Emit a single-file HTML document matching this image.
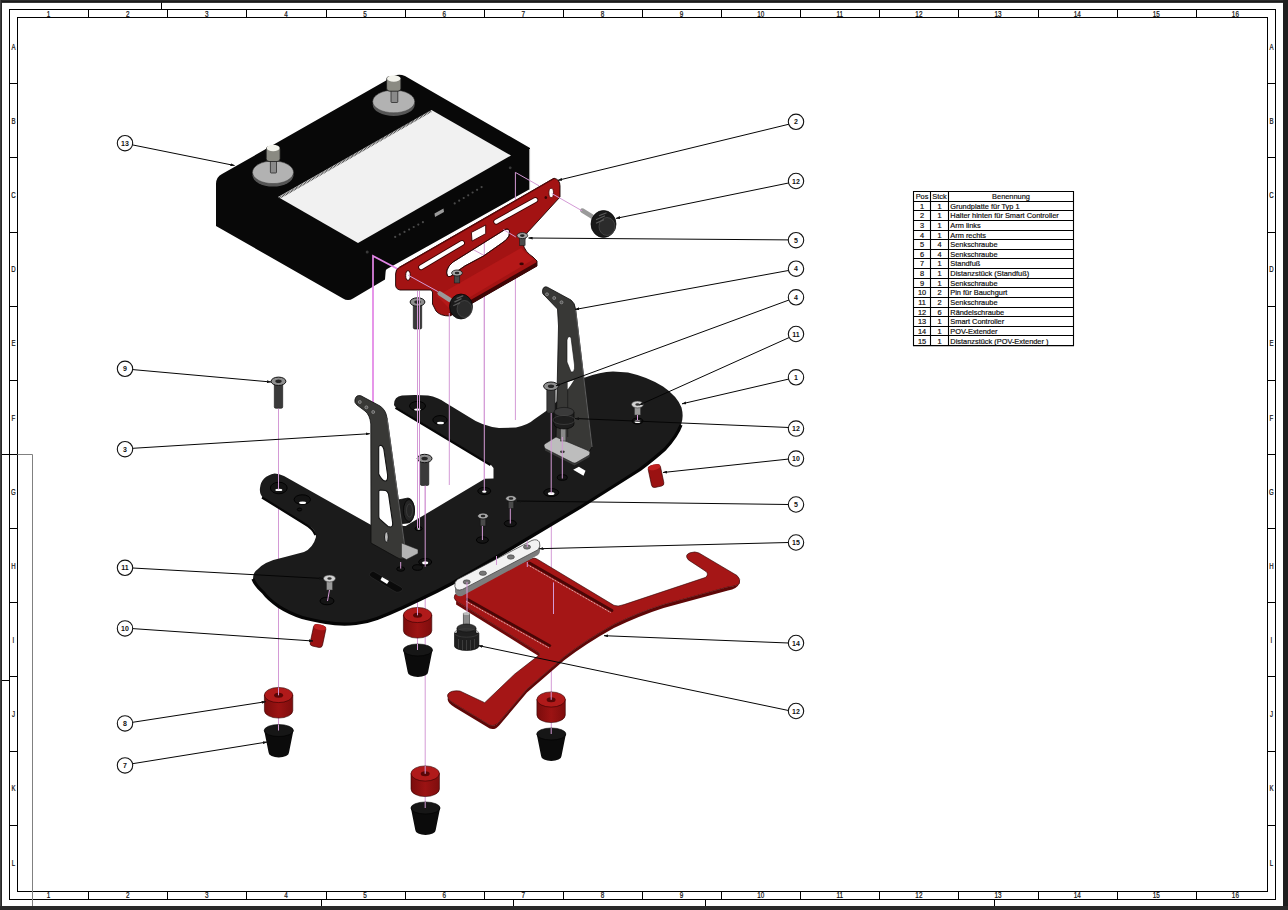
<!DOCTYPE html>
<html><head><meta charset="utf-8"><title>Zeichnung</title>
<style>html,body{margin:0;padding:0;background:#fff;overflow:hidden}svg{display:block}</style>
</head><body>
<svg width="1288" height="910" viewBox="0 0 1288 910">
<rect x="0" y="0" width="1288" height="910" fill="#ffffff"/><rect x="0" y="0" width="1288" height="2.8" fill="#050505"/><rect x="0" y="0" width="1288" height="1.6" fill="#2b2b2b"/><rect x="0" y="0" width="2" height="910" fill="#262626"/><rect x="0" y="0" width="1" height="910" fill="#404040"/><rect x="1283" y="0" width="5" height="910" fill="#1e1e1e"/><rect x="0" y="906" width="1288" height="4" fill="#2a2a2a"/><rect x="9.5" y="9.5" width="1266" height="890" fill="none" stroke="#000" stroke-width="1"/><rect x="17.5" y="17.5" width="1250" height="874" fill="none" stroke="#000" stroke-width="1"/><path d="M88.5,9.5V17.5M88.5,891.5V899.5M167.5,9.5V17.5M167.5,891.5V899.5M246.5,9.5V17.5M246.5,891.5V899.5M326.5,9.5V17.5M326.5,891.5V899.5M405.5,9.5V17.5M405.5,891.5V899.5M484.5,9.5V17.5M484.5,891.5V899.5M563.5,9.5V17.5M563.5,891.5V899.5M642.5,9.5V17.5M642.5,891.5V899.5M721.5,9.5V17.5M721.5,891.5V899.5M800.5,9.5V17.5M800.5,891.5V899.5M879.5,9.5V17.5M879.5,891.5V899.5M958.5,9.5V17.5M958.5,891.5V899.5M1038.5,9.5V17.5M1038.5,891.5V899.5M1117.5,9.5V17.5M1117.5,891.5V899.5M1196.5,9.5V17.5M1196.5,891.5V899.5M9.5,83.5H17.5M1267.5,83.5H1275.5M9.5,157.5H17.5M1267.5,157.5H1275.5M9.5,232.5H17.5M1267.5,232.5H1275.5M9.5,306.5H17.5M1267.5,306.5H1275.5M9.5,380.5H17.5M1267.5,380.5H1275.5M9.5,454.5H17.5M1267.5,454.5H1275.5M9.5,528.5H17.5M1267.5,528.5H1275.5M9.5,602.5H17.5M1267.5,602.5H1275.5M9.5,676.5H17.5M1267.5,676.5H1275.5M9.5,751.5H17.5M1267.5,751.5H1275.5M9.5,825.5H17.5M1267.5,825.5H1275.5M161.5,2.5V9.5M321.5,899.5V906M513.5,899.5V906M705.5,899.5V906M994.5,899.5V906M2,680.5H9.5M2,454.5H17.5" stroke="#000" stroke-width="1" fill="none"/><path d="M17.5,454.5H32.5V906" stroke="#808080" stroke-width="1" fill="none"/><g font-family="Liberation Sans, sans-serif" font-size="8.6" text-anchor="middle" fill="#111" stroke="#111" stroke-width="0.25"><text transform="translate(48.6,16.6) scale(0.74,1)">1</text><text transform="translate(48.6,898) scale(0.74,1)">1</text><text transform="translate(127.7,16.6) scale(0.74,1)">2</text><text transform="translate(127.7,898) scale(0.74,1)">2</text><text transform="translate(206.8,16.6) scale(0.74,1)">3</text><text transform="translate(206.8,898) scale(0.74,1)">3</text><text transform="translate(285.9,16.6) scale(0.74,1)">4</text><text transform="translate(285.9,898) scale(0.74,1)">4</text><text transform="translate(365.1,16.6) scale(0.74,1)">5</text><text transform="translate(365.1,898) scale(0.74,1)">5</text><text transform="translate(444.2,16.6) scale(0.74,1)">6</text><text transform="translate(444.2,898) scale(0.74,1)">6</text><text transform="translate(523.3,16.6) scale(0.74,1)">7</text><text transform="translate(523.3,898) scale(0.74,1)">7</text><text transform="translate(602.4,16.6) scale(0.74,1)">8</text><text transform="translate(602.4,898) scale(0.74,1)">8</text><text transform="translate(681.6,16.6) scale(0.74,1)">9</text><text transform="translate(681.6,898) scale(0.74,1)">9</text><text transform="translate(760.7,16.6) scale(0.74,1)">10</text><text transform="translate(760.7,898) scale(0.74,1)">10</text><text transform="translate(839.8,16.6) scale(0.74,1)">11</text><text transform="translate(839.8,898) scale(0.74,1)">11</text><text transform="translate(918.9,16.6) scale(0.74,1)">12</text><text transform="translate(918.9,898) scale(0.74,1)">12</text><text transform="translate(998.1,16.6) scale(0.74,1)">13</text><text transform="translate(998.1,898) scale(0.74,1)">13</text><text transform="translate(1077.2,16.6) scale(0.74,1)">14</text><text transform="translate(1077.2,898) scale(0.74,1)">14</text><text transform="translate(1156.3,16.6) scale(0.74,1)">15</text><text transform="translate(1156.3,898) scale(0.74,1)">15</text><text transform="translate(1235.4,16.6) scale(0.74,1)">16</text><text transform="translate(1235.4,898) scale(0.74,1)">16</text><text transform="translate(13.4,49.7) scale(0.74,1)" font-size="8.2">A</text><text transform="translate(1271.4,49.7) scale(0.74,1)" font-size="8.2">A</text><text transform="translate(13.4,123.8) scale(0.74,1)" font-size="8.2">B</text><text transform="translate(1271.4,123.8) scale(0.74,1)" font-size="8.2">B</text><text transform="translate(13.4,198.0) scale(0.74,1)" font-size="8.2">C</text><text transform="translate(1271.4,198.0) scale(0.74,1)" font-size="8.2">C</text><text transform="translate(13.4,272.2) scale(0.74,1)" font-size="8.2">D</text><text transform="translate(1271.4,272.2) scale(0.74,1)" font-size="8.2">D</text><text transform="translate(13.4,346.4) scale(0.74,1)" font-size="8.2">E</text><text transform="translate(1271.4,346.4) scale(0.74,1)" font-size="8.2">E</text><text transform="translate(13.4,420.5) scale(0.74,1)" font-size="8.2">F</text><text transform="translate(1271.4,420.5) scale(0.74,1)" font-size="8.2">F</text><text transform="translate(13.4,494.7) scale(0.74,1)" font-size="8.2">G</text><text transform="translate(1271.4,494.7) scale(0.74,1)" font-size="8.2">G</text><text transform="translate(13.4,568.9) scale(0.74,1)" font-size="8.2">H</text><text transform="translate(1271.4,568.9) scale(0.74,1)" font-size="8.2">H</text><text transform="translate(13.4,643.0) scale(0.74,1)" font-size="8.2">I</text><text transform="translate(1271.4,643.0) scale(0.74,1)" font-size="8.2">I</text><text transform="translate(13.4,717.2) scale(0.74,1)" font-size="8.2">J</text><text transform="translate(1271.4,717.2) scale(0.74,1)" font-size="8.2">J</text><text transform="translate(13.4,791.4) scale(0.74,1)" font-size="8.2">K</text><text transform="translate(1271.4,791.4) scale(0.74,1)" font-size="8.2">K</text><text transform="translate(13.4,865.5) scale(0.74,1)" font-size="8.2">L</text><text transform="translate(1271.4,865.5) scale(0.74,1)" font-size="8.2">L</text></g>
<path d="M913.5,191.5H1073.5V345.58H913.5ZM913.5,201.5H1073.5M913.5,210.5H1073.5M913.5,220.5H1073.5M913.5,230.5H1073.5M913.5,239.5H1073.5M913.5,249.5H1073.5M913.5,258.5H1073.5M913.5,268.5H1073.5M913.5,278.5H1073.5M913.5,287.5H1073.5M913.5,297.5H1073.5M913.5,307.5H1073.5M913.5,316.5H1073.5M913.5,326.5H1073.5M913.5,335.5H1073.5M930.5,191.5V345.58M948.5,191.5V345.58" stroke="#000" stroke-width="1.1" fill="none"/><g font-family="Liberation Sans, sans-serif" font-size="7.4" fill="#111" stroke="#111" stroke-width="0.2"><text x="922.0" y="199.0" text-anchor="middle">Pos</text><text x="939.5" y="199.0" text-anchor="middle">Stck</text><text x="1011.0" y="199.0" text-anchor="middle">Benennung</text><text x="922.0" y="208.6" text-anchor="middle">1</text><text x="939.5" y="208.6" text-anchor="middle">1</text><text x="950.3" y="208.6">Grundplatte für Typ 1</text><text x="922.0" y="218.3" text-anchor="middle">2</text><text x="939.5" y="218.3" text-anchor="middle">1</text><text x="950.3" y="218.3">Halter hinten für Smart Controller</text><text x="922.0" y="227.9" text-anchor="middle">3</text><text x="939.5" y="227.9" text-anchor="middle">1</text><text x="950.3" y="227.9">Arm links</text><text x="922.0" y="237.5" text-anchor="middle">4</text><text x="939.5" y="237.5" text-anchor="middle">1</text><text x="950.3" y="237.5">Arm rechts</text><text x="922.0" y="247.2" text-anchor="middle">5</text><text x="939.5" y="247.2" text-anchor="middle">4</text><text x="950.3" y="247.2">Senkschraube</text><text x="922.0" y="256.8" text-anchor="middle">6</text><text x="939.5" y="256.8" text-anchor="middle">4</text><text x="950.3" y="256.8">Senkschraube</text><text x="922.0" y="266.4" text-anchor="middle">7</text><text x="939.5" y="266.4" text-anchor="middle">1</text><text x="950.3" y="266.4">Standfuß</text><text x="922.0" y="276.0" text-anchor="middle">8</text><text x="939.5" y="276.0" text-anchor="middle">1</text><text x="950.3" y="276.0">Distanzstück (Standfuß)</text><text x="922.0" y="285.7" text-anchor="middle">9</text><text x="939.5" y="285.7" text-anchor="middle">1</text><text x="950.3" y="285.7">Senkschraube</text><text x="922.0" y="295.3" text-anchor="middle">10</text><text x="939.5" y="295.3" text-anchor="middle">2</text><text x="950.3" y="295.3">Pin für Bauchgurt</text><text x="922.0" y="304.9" text-anchor="middle">11</text><text x="939.5" y="304.9" text-anchor="middle">2</text><text x="950.3" y="304.9">Senkschraube</text><text x="922.0" y="314.6" text-anchor="middle">12</text><text x="939.5" y="314.6" text-anchor="middle">6</text><text x="950.3" y="314.6">Rändelschraube</text><text x="922.0" y="324.2" text-anchor="middle">13</text><text x="939.5" y="324.2" text-anchor="middle">1</text><text x="950.3" y="324.2">Smart Controller</text><text x="922.0" y="333.8" text-anchor="middle">14</text><text x="939.5" y="333.8" text-anchor="middle">1</text><text x="950.3" y="333.8">POV-Extender</text><text x="922.0" y="343.5" text-anchor="middle">15</text><text x="939.5" y="343.5" text-anchor="middle">1</text><text x="950.3" y="343.5">Distanzstück (POV-Extender )</text></g>
<!-- ===== Controller (13) ===== -->
<g id="ctrl">
<path d="M216,184 Q216,177 222,174 L394,76 Q399,73.5 405,76 L530,148 L530,189 L387,269 Q385.6,269.6 385.6,272 L385,279.5 L353,298.5 Q348,301.5 343,298.5 L216,226 Z" fill="#080808"/>
<path d="M529.6,149V189" stroke="#b5b5b5" stroke-width="1"/>
<path d="M278,197 L431.5,110 L511,155.5 L358,243 Z" fill="#f1f1f1"/>
<path d="M279.3,197.9 L431.5,110.9" stroke="#3a3a3a" stroke-width="2.2" stroke-dasharray="0.8 0.7"/>
<g fill="#4a4a4a">
<circle cx="395.2" cy="236.9" r="1.1"/><circle cx="399.8" cy="234.4" r="1.1"/><circle cx="404.5" cy="231.9" r="1.1"/><circle cx="409.1" cy="229.5" r="1.1"/><circle cx="413.7" cy="227" r="1.1"/><circle cx="418.3" cy="224.6" r="1.1"/><circle cx="422.9" cy="222.2" r="1.1"/>
<circle cx="454.7" cy="203.4" r="1.1"/><circle cx="459.2" cy="200.7" r="1.1"/><circle cx="463.7" cy="198" r="1.1"/><circle cx="468.2" cy="195.3" r="1.1"/><circle cx="472.6" cy="192.5" r="1.1"/><circle cx="477.1" cy="189.8" r="1.1"/><circle cx="481.6" cy="187.1" r="1.1"/>
</g>
<circle cx="367.2" cy="252" r="1.5" fill="#3a3a3a"/>
<circle cx="510.2" cy="167.8" r="1.4" fill="#3a3a3a"/>
<path d="M434.5,213.5 L443.5,208.5 L444,212 L435,217 Z" fill="#9a9a9a"/>
<!-- knobs -->
<ellipse cx="273" cy="175.3" rx="20.5" ry="11.3" fill="#555"/>
<ellipse cx="273" cy="172.3" rx="20.5" ry="11.3" fill="#b2b2b2" stroke="#3a3a3a" stroke-width="0.5"/>
<rect x="270.4" y="160" width="6.1" height="13" rx="0.8" fill="#8a8a8a" stroke="#1a1a1a" stroke-width="0.7"/>
<rect x="266.2" y="146.5" width="13.9" height="15" rx="3" fill="#8a8a82" stroke="#1a1a1a" stroke-width="0.8"/>
<ellipse cx="273.15" cy="148" rx="6.5" ry="3.2" fill="#f3f3ec"/>
<ellipse cx="393.7" cy="104.6" rx="21" ry="11.3" fill="#555"/>
<ellipse cx="393.7" cy="101.5" rx="21" ry="11.3" fill="#b2b2b2" stroke="#3a3a3a" stroke-width="0.5"/>
<rect x="391" y="89.5" width="6.8" height="13" rx="0.8" fill="#8a8a8a" stroke="#1a1a1a" stroke-width="0.7"/>
<rect x="386.6" y="76.5" width="14.3" height="14.7" rx="3" fill="#8a8a82" stroke="#1a1a1a" stroke-width="0.8"/>
<ellipse cx="393.75" cy="78.5" rx="6.7" ry="3.2" fill="#f3f3ec"/>
</g>
<g stroke="#d49ad6" stroke-width="1" fill="none">
<path d="M397.3,268.8 L373,256 V403" stroke="#e285e6" stroke-width="1.7"/>
<path d="M539.4,186 L515.4,172.4 V420"/>
<path d="M450,237 L484.3,255.6 M484.3,241.9 V491"/>
<path d="M417.5,291V650"/>
<path d="M425.2,485.5V808"/>
<path d="M278.5,408.7V730.5"/>
<path d="M551.3,413V734"/>
</g>

<!-- ===== Bracket (2) ===== -->
<g id="bracket">
<path fill-rule="evenodd" d="M399.5,267.2 L554,178.2 Q560,179.5 560,186 L560,197 L527,233 L523,244 Q525,252 533,257 L537,261 L537,266 L450,316 Q440,316 436,311 L432.5,304 L432.5,292 L431,290 L400,290 Q395.6,289 395.6,285 L395.6,274 Q395.6,269 399.5,267.2 Z M447,270 Q448,266 453,262 L505,229.5 Q509.5,228 509.5,232 L509,236 Q507,240 502,243 L483.5,256 L464.8,266 L454,273.5 Q450,278 447.5,276 Q446,273 447,270 Z" fill="#a31313" stroke="#1a0000" stroke-width="0.9"/>
<path d="M399.5,267.6 L554,178.6" stroke="#5c0707" stroke-width="1.2" fill="none"/>
<path d="M437,296 L521,248 Q526,254 534,259 L450,309 Z" fill="#b51818"/>
<path d="M449.6,312 L537,262 L537,266 L450,316 Z" fill="#400505"/>
<path d="M447,270 Q448,266 453,262 L505,229.5 Q509.5,228 509.5,232 L509,236 Q507,240 502,243 L483.5,256 L464.8,266 L454,273.5 Q450,278 447.5,276 Q446,273 447,270 Z" fill="none" stroke="#3a0303" stroke-width="0.8"/>
<path d="M496.2,221.7 L535.3,200" stroke="#3a0303" stroke-width="5.8" stroke-linecap="round"/>
<path d="M496.2,221.7 L535.3,200" stroke="#fff" stroke-width="4" stroke-linecap="round"/>
<path d="M421.1,267.2 L462,243" stroke="#3a0303" stroke-width="5.8" stroke-linecap="round"/>
<path d="M421.1,267.2 L462,243" stroke="#fff" stroke-width="4" stroke-linecap="round"/>
<path d="M471.4,232.4 L485.7,225 L485.7,233.7 L472,241.1 Z" fill="#fff" stroke="#3a0303" stroke-width="0.9"/>
<ellipse cx="521.6" cy="263.9" rx="2.2" ry="1.3" fill="#3a0404"/>
<ellipse cx="545.8" cy="197.5" rx="1.3" ry="1.6" fill="#3a0404"/>
<ellipse cx="551.2" cy="192.9" rx="2.3" ry="4.6" fill="#fff" stroke="#4a0505" stroke-width="0.8"/>
<ellipse cx="408" cy="275.5" rx="2.3" ry="4.8" fill="#fff" stroke="#3a0303" stroke-width="1"/>
</g>
<!-- ===== Base plate (1) ===== -->
<g id="plate">
<path d="M394,404.5 Q394,396.5 402,395.5 Q415,394.3 428,395.5 Q438,397 446,403 L469,417 Q482,426 499,428 L516,427.5 Q528,425 534,419.5 L549,409 Q560,399 568,389 Q576,380 585,377.5 Q600,372 613,371.5 L628,372.5 Q648,377 663,386.5 Q677,396 681.5,407.5 Q684,417 681,425 Q677,436 665,449 Q655,458 640,469.5 L580,507.5 L527,539 L490,561 L452,583.5 Q436,592 420,599.5 L403,607.5 Q390,613.5 377,618.5 Q366,622.5 356,623.5 Q340,625 325.6,622.4 Q312,620 302.3,617.5 Q289,613 279,606.6 Q268,599 263.5,592.6 Q255,585 253,579 Q253,572 258,569 Q262,565 266,563 Q275,559 285,557 L304,552 Q313,548 316,537 Q316,530 309,526 L265,499.6 Q259,495 260,488 Q261,476 274.7,473.4 Q279,473.5 284,476 L371.6,525.3 L405.7,526.1 L484.8,478.7 L493.5,478.5 L493.5,468 L490.8,464.8 L398,408.5 Q394,406.5 394,404.5 Z" fill="#1b1b1b"/>
<path d="M681,425 Q677,436 665,449 Q655,458 640,469.5 L580,507.5 L527,539 L490,561 L452,583.5 Q436,592 420,599.5 L403,607.5 Q390,613.5 377,618.5 Q366,622.5 356,623.5 Q340,625 325.6,622.4 Q312,620 302.3,617.5 Q289,613 279,606.6 Q268,599 263.5,592.6 Q255,585 253,579" fill="none" stroke="#050505" stroke-width="3.2"/>
<path d="M395.5,407.8 L490.5,465 M262,497.5 L304,523.5 Q313,528.5 315.5,535" fill="none" stroke="#060606" stroke-width="2.2"/>
<!-- holes -->
<g fill="#141414" stroke="#000" stroke-width="0.9">
<ellipse cx="278.8" cy="488" rx="8.4" ry="5.8"/>
<ellipse cx="302.3" cy="499.6" rx="8.2" ry="4.8"/>
<ellipse cx="299.5" cy="509.5" rx="2.2" ry="1.5"/>
<ellipse cx="417.5" cy="406" rx="8" ry="4.6"/>
<ellipse cx="440" cy="420" rx="7.2" ry="4.4"/>
<ellipse cx="484.3" cy="491" rx="6.5" ry="3.6"/>
<ellipse cx="551.2" cy="492.5" rx="7.5" ry="4"/>
<ellipse cx="562.3" cy="477.5" rx="5" ry="2.8"/>
<ellipse cx="510.3" cy="523.5" rx="6" ry="3.3"/>
<ellipse cx="482.4" cy="540" rx="6" ry="3.3"/>
<ellipse cx="425.2" cy="562" rx="6.5" ry="3.6"/>
<ellipse cx="417.5" cy="567.5" rx="5" ry="2.8"/>
<ellipse cx="327" cy="601" rx="7" ry="3.8"/>
<ellipse cx="637.5" cy="421" rx="5.5" ry="3"/>
<ellipse cx="418.6" cy="528.6" rx="3.6" ry="2"/>
<ellipse cx="400.7" cy="569" rx="4" ry="2.2"/>
</g>
<g fill="#fff">
<ellipse cx="278.8" cy="489.9" rx="3.5" ry="1.2"/>
<ellipse cx="302.6" cy="502.8" rx="3.5" ry="1.25"/>
<ellipse cx="417.5" cy="409.6" rx="3.3" ry="1.2"/>
<ellipse cx="440.5" cy="423" rx="3.5" ry="1.3"/>
<ellipse cx="484.3" cy="491.6" rx="2.2" ry="1.2"/>
<ellipse cx="551.2" cy="493.5" rx="3.3" ry="1.6"/>
<ellipse cx="425.2" cy="562.8" rx="3" ry="1.5"/>
<ellipse cx="637.5" cy="421.5" rx="3" ry="1.5"/>
<ellipse cx="418.8" cy="529" rx="1.4" ry="0.8"/>
</g>
<path d="M373,571 L401,587 Q404,589 402,590.5 L399,592 Q397,593 394,591 L371,577 Q368,575 370,573 Z" fill="#0a0a0a" stroke="#333" stroke-width="0.5"/>
<path d="M382,577 L389,581 L387,584 L380.5,580 Z" fill="#fff"/>
<path d="M573.2,469.8 L578.9,466.8 L585.5,470.8 L583.5,475.8 Z" fill="#fff"/>
</g>
<!-- knob under arm 3 -->
<path d="M398,500 L408,498 A6.5,12.5 0 0 1 408,523 L398,524 Z" fill="#1a1a1a" stroke="#000" stroke-width="0.7"/>
<ellipse cx="409" cy="510.5" rx="5.5" ry="11" fill="#262626" stroke="#000" stroke-width="0.7"/>
<ellipse cx="409.5" cy="510.5" rx="3" ry="6.5" fill="none" stroke="#444" stroke-width="0.7"/>
<!-- ===== Arm links (3) ===== -->
<g id="arm3">
<path d="M355,399.5 Q356,394.5 361,395.8 L380,406 Q386,410 387,418 L404.8,547 L404,559 Q400,560 396,557 L371,543 L370.8,424 Q370,415 365,411 L357,405 Q354,402.5 355,399.5 Z" fill="#383836" stroke="#0d0d0d" stroke-width="0.8"/>
<path d="M387,418 L404.8,547" stroke="#5a5a5a" stroke-width="1.2"/>
<path d="M401.5,543 L418,549.5 L418,553.5 L406.5,559.5 L401.5,557 Z" fill="#b4b4b4" stroke="#222" stroke-width="0.5"/>
<path d="M378.7,447.5 Q379,444.8 381.5,445.5 Q383,446.5 383.8,449 L387.6,475 Q388,481.5 384.8,481 Q381.5,480 378.7,474 Z" fill="#fff" stroke="#121212" stroke-width="1.1"/>
<path d="M378.8,491.5 Q379,490 380.5,490 L385.5,490.5 Q387.5,491 388.5,494 L392.6,522.5 Q393,527 390.5,527 L388,526.5 L379.5,519 Q378.8,518 378.8,516 Z" fill="#fff" stroke="#121212" stroke-width="1.1"/>
<ellipse cx="386.4" cy="537" rx="1.9" ry="5" fill="#bdbdbd" stroke="#111" stroke-width="0.9"/>
<g fill="#555" stroke="#bbb" stroke-width="0.5"><circle cx="359.8" cy="402" r="1.5"/><circle cx="366.4" cy="407.3" r="1.5"/><circle cx="373.2" cy="412" r="1.5"/></g>
</g>
<!-- ===== Arm rechts (4) ===== -->
<g id="arm4">
<path d="M542.5,291 Q543,286 547,287 L571,300 Q575,303 575.5,309 L592,447 L589,452 L556,438 L558.5,326 L557.5,309 L545,296 Q542,294 542.5,291 Z" fill="#383836" stroke="#0d0d0d" stroke-width="0.8"/>
<path d="M575.5,309 L592,447" stroke="#5a5a5a" stroke-width="1.2"/>
<path d="M567,340 Q568,335 571,337.5 L574.5,365 Q575,373 571,372 L567,362 Z" fill="#fff" stroke="#111" stroke-width="0.6"/>
<path d="M567.6,382 L574,380 Q571,385 567.6,389.5 Z" fill="#fff"/>
<path d="M567.7,389.5 V437" stroke="#1a1a1a" stroke-width="0.8"/>
<g fill="#555" stroke="#bbb" stroke-width="0.5"><circle cx="547" cy="294.3" r="1.5"/><circle cx="554.2" cy="298" r="1.5"/><circle cx="561.5" cy="302.3" r="1.5"/></g>
<path d="M545,448.5 L545,450.5 L574.5,465.5 L589.5,457 L589.5,455 Z" fill="#3a3a3a"/>
<path d="M544,446 Q543.5,444.5 545.5,443.5 L556,437 L588,450.5 Q591,452 589.5,455 L576,462.8 Q574.5,463.5 572.5,462.5 L545,448.5 Z" fill="#bdbdbd" stroke="#1a1a1a" stroke-width="0.6"/>
<ellipse cx="562.4" cy="451.8" rx="2.4" ry="1.4" fill="#333"/>
</g>
<!-- ===== POV extender (14) ===== -->
<g id="pov">
<path d="M454.9,594.7 L532,558.5 Q534.5,557.5 537,559 L613.9,605.3 Q618,607 624,604.6 L705.8,577.3 Q709,574 706,571.5 L688.4,559.9 Q684,555 690,552.8 Q695,551 699,553 L737,575.5 Q741,579 739.4,583.5 Q737,586 728,587 L663.6,604.6 Q640,612 613.9,624.5 Q586,640 564.2,656.8 L527,689.1 L499.6,721.4 Q495,727 489.7,725.1 L454.9,704 Q446,699 448,694 Q451,690 459.9,691 L484.7,702.7 L514.5,674.2 L536.9,656.8 Q540,655 539.4,653 L456.1,600.9 Q453,598 454.9,594.7 Z" fill="#a51616" stroke="#2a0202" stroke-width="0.6"/>
<path d="M739.4,583.5 Q737,589 728,590.5 L663.6,608 Q640,615.5 613.9,628 Q586,643.5 564.2,660.3 L527,692.6 L499.6,724.9 Q495,730.5 489.7,728.6 L454.9,707.5 Q446,702.5 448,697.5 L448,694 Q446,699 454.9,704 L489.7,725.1 Q495,727 499.6,721.4 L527,689.1 L564.2,656.8 Q586,640 613.9,624.5 Q640,612 663.6,604.6 L728,587 Q737,586 739.4,583.5 Z" fill="#5e0707"/>
<path d="M456.1,600.9 L539.4,653 L539.4,656.5 L456.1,604.4 Z" fill="#6d0909"/>
<path d="M529.5,563 L612,610.5" stroke="#4a0606" stroke-width="2.8" stroke-linecap="round"/>
<path d="M528.5,565.2 L611,612.7" stroke="#eadada" stroke-width="0.9" stroke-dasharray="1.1 0.7"/>
<path d="M467.3,599.3 L549.8,645.6" stroke="#4a0606" stroke-width="2.8" stroke-linecap="round"/>
<path d="M466.3,601.5 L548.8,647.8" stroke="#eadada" stroke-width="0.9" stroke-dasharray="1.1 0.7"/>
</g>
<!-- ===== spacer bar (15) ===== -->
<g id="bar15">
<path d="M455,586 L455,592 Q456,597 462,596 L538,555 Q540.5,553 540,549 L540,544 Z" fill="#7d7d7d"/>
<path d="M457.4,579.5 L532,540.4 Q537,538.5 539.4,542 Q541,546.5 538.1,549.7 L462.4,589.4 Q456,591.5 454.9,586.5 Q454,582 457.4,579.5 Z" fill="#f2f2f2" stroke="#333" stroke-width="0.7"/>
<g fill="#777" stroke="#333" stroke-width="0.5"><ellipse cx="466.7" cy="582" rx="3.6" ry="2.2"/><ellipse cx="482.9" cy="573.2" rx="3.6" ry="2.2"/><ellipse cx="510.8" cy="557" rx="3.6" ry="2.2"/><ellipse cx="527" cy="547" rx="3.6" ry="2.2"/></g>
</g>
<!-- ===== spacers (8) and feet (7) ===== -->
<defs>
<linearGradient id="gr" x1="0" x2="1" y1="0" y2="0"><stop offset="0" stop-color="#7a0c0c"/><stop offset="0.5" stop-color="#9c1313"/><stop offset="1" stop-color="#7e0d0d"/></linearGradient>
<g id="spacer">
<path d="M-14.2,0 V15.5 A14.2,7.6 0 0 0 14.2,15.5 V0 Z" fill="url(#gr)" stroke="#300" stroke-width="0.6"/>
<ellipse cx="0" cy="0" rx="14.2" ry="7.6" fill="#b01a1a" stroke="#300" stroke-width="0.6"/>
<ellipse cx="0" cy="0.3" rx="4.5" ry="2.5" fill="#5a0606"/>
</g>
<g id="foot">
<path d="M-14.6,0 L-10.2,22 A10.2,5 0 0 0 10.2,22 L14.6,0 Z" fill="#0b0b0b"/>
<ellipse cx="0" cy="0" rx="14.6" ry="6" fill="#161616" stroke="#000" stroke-width="0.6"/>
</g>
</defs>
<use href="#spacer" x="278.6" y="695"/>
<use href="#foot" x="278.8" y="730.5"/>
<use href="#spacer" x="417.6" y="615"/>
<use href="#foot" x="417.9" y="650"/>
<use href="#spacer" x="425.2" y="773.5"/>
<use href="#foot" x="425.5" y="808"/>
<use href="#spacer" x="551.1" y="699.5"/>
<use href="#foot" x="551.3" y="734"/>
<!-- ===== pins (10) ===== -->
<g transform="translate(318,636) rotate(12)"><rect x="-6.3" y="-11" width="12.6" height="22" rx="3" fill="#9a1212" stroke="#300" stroke-width="0.6"/><ellipse cx="0" cy="-9" rx="6.3" ry="2.8" fill="#c02020"/></g>
<g transform="translate(656,476) rotate(-12)"><rect x="-6.3" y="-11" width="12.6" height="22" rx="3" fill="#9a1212" stroke="#300" stroke-width="0.6"/><ellipse cx="0" cy="-9" rx="6.3" ry="2.8" fill="#c02020"/></g>
<!-- ===== screws ===== -->
<defs>
<g id="screwL">
<rect x="-4.2" y="0" width="8.4" height="27" rx="1.5" fill="#3a3a3a" stroke="#111" stroke-width="0.6"/>
<ellipse cx="0" cy="0" rx="7.4" ry="4.2" fill="#8e8e8e" stroke="#151515" stroke-width="1"/>
<ellipse cx="0" cy="0" rx="3.2" ry="1.8" fill="#262626"/>
</g>
<g id="screwS">
<rect x="-2.8" y="0" width="5.6" height="10" fill="#4a4a4a" stroke="#111" stroke-width="0.5"/>
<ellipse cx="0" cy="0" rx="5.4" ry="3" fill="#a8a8a8" stroke="#151515" stroke-width="0.8"/>
<ellipse cx="0" cy="0" rx="2.3" ry="1.3" fill="#262626"/>
</g>
</defs>
<use href="#screwL" x="278.5" y="381.3"/>
<use href="#screwL" x="424.6" y="458.5"/>
<use href="#screwL" x="417.5" y="302"/>
<use href="#screwL" x="551" y="386.2"/>
<use href="#screwS" x="457" y="273"/>
<use href="#screwS" x="522.3" y="235.6"/>
<use href="#screwS" x="511" y="498.5"/>
<use href="#screwS" x="483" y="516"/>
<g><rect x="634.5" y="405" width="6" height="10" fill="#999" stroke="#333" stroke-width="0.5"/><ellipse cx="637.5" cy="404.5" rx="6" ry="3.4" fill="#d2d2d2" stroke="#333" stroke-width="0.6"/><ellipse cx="637.5" cy="404.5" rx="2.2" ry="1.2" fill="#333"/></g>
<g><rect x="326.5" y="579" width="6" height="11" fill="#999" stroke="#333" stroke-width="0.5"/><ellipse cx="329.5" cy="578.5" rx="6" ry="3.4" fill="#d2d2d2" stroke="#333" stroke-width="0.6"/><ellipse cx="329.5" cy="578.5" rx="2.2" ry="1.2" fill="#333"/></g>
<!-- ===== knobs (12) ===== -->
<!-- bracket knob -->
<path d="M439.7,293.3 L450,300" stroke="#9a9a9a" stroke-width="4.5" stroke-linecap="round"/>
<ellipse cx="461" cy="306.5" rx="11.5" ry="12.5" fill="#1a1a1a" stroke="#000" stroke-width="0.7"/>
<ellipse cx="464.5" cy="309" rx="7.5" ry="8.5" fill="#2b2b2b" stroke="#555" stroke-width="0.6"/>
<path d="M453.8,305.5 L459.5,302.8 M454.8,301.8 L461,298.8 M457,298.3 L462.8,295.8" stroke="#5a5a5a" stroke-width="1.3" stroke-linecap="round"/>
<!-- top right knob -->
<path d="M582.3,210.5 L592,216.5" stroke="#9a9a9a" stroke-width="4.5" stroke-linecap="round"/>
<ellipse cx="603.5" cy="224" rx="12.5" ry="13.5" fill="#1a1a1a" stroke="#000" stroke-width="0.7"/>
<ellipse cx="607" cy="226.5" rx="8" ry="9" fill="#2b2b2b" stroke="#555" stroke-width="0.6"/>
<path d="M596.5,223 L603.5,219.8 M596.5,219.5 L604.5,216 M599.5,215.5 L606,213" stroke="#5a5a5a" stroke-width="1.3" stroke-linecap="round"/>
<!-- knob under arm 4 -->
<rect x="560.5" y="428" width="5.4" height="13" fill="#8a8a8a" stroke="#222" stroke-width="0.5"/>
<path d="M554,412 V424 A10,5 0 0 0 574,424 V412 Z" fill="#1e1e1e" stroke="#000" stroke-width="0.6"/>
<ellipse cx="564" cy="412" rx="10" ry="4.6" fill="#3a3a3a" stroke="#111" stroke-width="0.6"/>
<ellipse cx="564" cy="420" rx="11" ry="4.5" fill="none" stroke="#4a4a4a" stroke-width="0.6"/>
<!-- bottom knob -->
<rect x="463.2" y="613.5" width="6.5" height="14" fill="#8c8c8c" stroke="#222" stroke-width="0.5"/>
<ellipse cx="466.45" cy="613.5" rx="3.25" ry="1.5" fill="#bdbdbd"/>
<path d="M457,628 V633 H454.5 V646 A12.2,4.5 0 0 0 478.9,646 V633 H476 V628 Z" fill="#1f1f1f" stroke="#000" stroke-width="0.6"/>
<ellipse cx="466.5" cy="628" rx="9.5" ry="4" fill="#333" stroke="#111" stroke-width="0.6"/>
<ellipse cx="466.5" cy="633" rx="12.2" ry="4.2" fill="none" stroke="#444" stroke-width="0.6"/>
<path d="M458.5,639V648.5M462.5,640V650M466.5,640V650.5M470.5,640V650M474.5,639V648.5" stroke="#444" stroke-width="0.8"/>
<g stroke="#d49ad6" stroke-width="1" fill="none">
<path d="M484.3,297V491"/>
<path d="M449.3,313V485"/>
<path d="M417.5,291V528.4M417.5,607.4V615.3M417.5,644V650"/>
<path d="M419.5,291V528.4"/>
<path d="M425.2,485.5V566.7M425.2,765.9V773.8M425.2,802V808"/>
<path d="M278.5,408.7V489.5M278.5,687.4V695.3M278.5,724.5V730.5"/>
<path d="M551.2,413V493.5M553.5,582.4V614M551.2,692V699.8M551.2,728V734"/>
<path d="M562.3,437V478.5"/>
<path d="M510.3,508.5V523.5"/>
<path d="M482.4,526V540"/>
<path d="M467,582V612"/>
<path d="M527.3,541V547M527.3,562V567"/>
<path d="M496.5,556V565"/>
<path d="M329.5,590 L327.5,601"/>
<path d="M400.7,562V568.6"/>
<path d="M637.5,415V421"/>
<path d="M503.4,229.5 L515.8,237"/>
<path d="M408.2,275.2 L437.9,291.6"/>
<path d="M551.8,193.5 L582.2,210.9"/>
</g>

<defs><marker id="ah" viewBox="0 0 6 4" refX="5.5" refY="2" markerWidth="4.5" markerHeight="3" markerUnits="userSpaceOnUse" orient="auto"><path d="M0,0 L6,2 L0,4 Z" fill="#111"/></marker></defs><g stroke="#050505" stroke-width="1" fill="none"><path d="M133,145L234.5,165.5" marker-end="url(#ah)"/><path d="M132.8,369.6L271,382" marker-end="url(#ah)"/><path d="M132.8,448.3L369.8,433.7" marker-end="url(#ah)"/><path d="M132.6,568L323,578.5" marker-end="url(#ah)"/><path d="M132.6,628.6L313,641" marker-end="url(#ah)"/><path d="M132.6,722.3L265.7,701.7" marker-end="url(#ah)"/><path d="M132.6,763.7L267,742" marker-end="url(#ah)"/><path d="M789,124.2L558,180.3" marker-end="url(#ah)"/><path d="M789,182.9L616,218.4" marker-end="url(#ah)"/><path d="M788.5,239.9L528.5,238" marker-end="url(#ah)"/><path d="M789,270.4L575,309.5" marker-end="url(#ah)"/><path d="M789,300L556,385.8" marker-end="url(#ah)"/><path d="M789.5,337.4L639.3,405" marker-end="url(#ah)"/><path d="M789,379L682,403.8" marker-end="url(#ah)"/><path d="M789,427.5L575,418.5" marker-end="url(#ah)"/><path d="M789,459L663,472.5" marker-end="url(#ah)"/><path d="M788.5,504.5L517,501" marker-end="url(#ah)"/><path d="M788.5,542.5L539.4,548.7" marker-end="url(#ah)"/><path d="M788.5,643L604,635.7" marker-end="url(#ah)"/><path d="M788.5,710.5L478.5,645.6" marker-end="url(#ah)"/></g>
<g font-family="Liberation Sans, sans-serif" font-size="7" font-weight="bold" fill="#111"><circle cx="125" cy="143.2" r="7.7" fill="#fff" stroke="#111" stroke-width="1.1"/><text x="125" y="145.7" text-anchor="middle">13</text><circle cx="125" cy="368.8" r="7.7" fill="#fff" stroke="#111" stroke-width="1.1"/><text x="125" y="371.3" text-anchor="middle">9</text><circle cx="125" cy="449.2" r="7.7" fill="#fff" stroke="#111" stroke-width="1.1"/><text x="125" y="451.7" text-anchor="middle">3</text><circle cx="125" cy="567.8" r="7.7" fill="#fff" stroke="#111" stroke-width="1.1"/><text x="125" y="570.3" text-anchor="middle">11</text><circle cx="125" cy="628.4" r="7.7" fill="#fff" stroke="#111" stroke-width="1.1"/><text x="125" y="630.9" text-anchor="middle">10</text><circle cx="125" cy="723.4" r="7.7" fill="#fff" stroke="#111" stroke-width="1.1"/><text x="125" y="725.9" text-anchor="middle">8</text><circle cx="125" cy="765.4" r="7.7" fill="#fff" stroke="#111" stroke-width="1.1"/><text x="125" y="767.9" text-anchor="middle">7</text><circle cx="796" cy="121.8" r="7.7" fill="#fff" stroke="#111" stroke-width="1.1"/><text x="796" y="124.3" text-anchor="middle">2</text><circle cx="796" cy="181" r="7.7" fill="#fff" stroke="#111" stroke-width="1.1"/><text x="796" y="183.5" text-anchor="middle">12</text><circle cx="796" cy="240.2" r="7.7" fill="#fff" stroke="#111" stroke-width="1.1"/><text x="796" y="242.7" text-anchor="middle">5</text><circle cx="796" cy="268.7" r="7.7" fill="#fff" stroke="#111" stroke-width="1.1"/><text x="796" y="271.2" text-anchor="middle">4</text><circle cx="796" cy="297.3" r="7.7" fill="#fff" stroke="#111" stroke-width="1.1"/><text x="796" y="299.8" text-anchor="middle">4</text><circle cx="796" cy="334" r="7.7" fill="#fff" stroke="#111" stroke-width="1.1"/><text x="796" y="336.5" text-anchor="middle">11</text><circle cx="796" cy="377.3" r="7.7" fill="#fff" stroke="#111" stroke-width="1.1"/><text x="796" y="379.8" text-anchor="middle">1</text><circle cx="796" cy="428.6" r="7.7" fill="#fff" stroke="#111" stroke-width="1.1"/><text x="796" y="431.1" text-anchor="middle">12</text><circle cx="796" cy="458.6" r="7.7" fill="#fff" stroke="#111" stroke-width="1.1"/><text x="796" y="461.1" text-anchor="middle">10</text><circle cx="796" cy="504.5" r="7.7" fill="#fff" stroke="#111" stroke-width="1.1"/><text x="796" y="507.0" text-anchor="middle">5</text><circle cx="796" cy="542.5" r="7.7" fill="#fff" stroke="#111" stroke-width="1.1"/><text x="796" y="545.0" text-anchor="middle">15</text><circle cx="796" cy="643" r="7.7" fill="#fff" stroke="#111" stroke-width="1.1"/><text x="796" y="645.5" text-anchor="middle">14</text><circle cx="796" cy="711" r="7.7" fill="#fff" stroke="#111" stroke-width="1.1"/><text x="796" y="713.5" text-anchor="middle">12</text></g>
</svg>
</body></html>
